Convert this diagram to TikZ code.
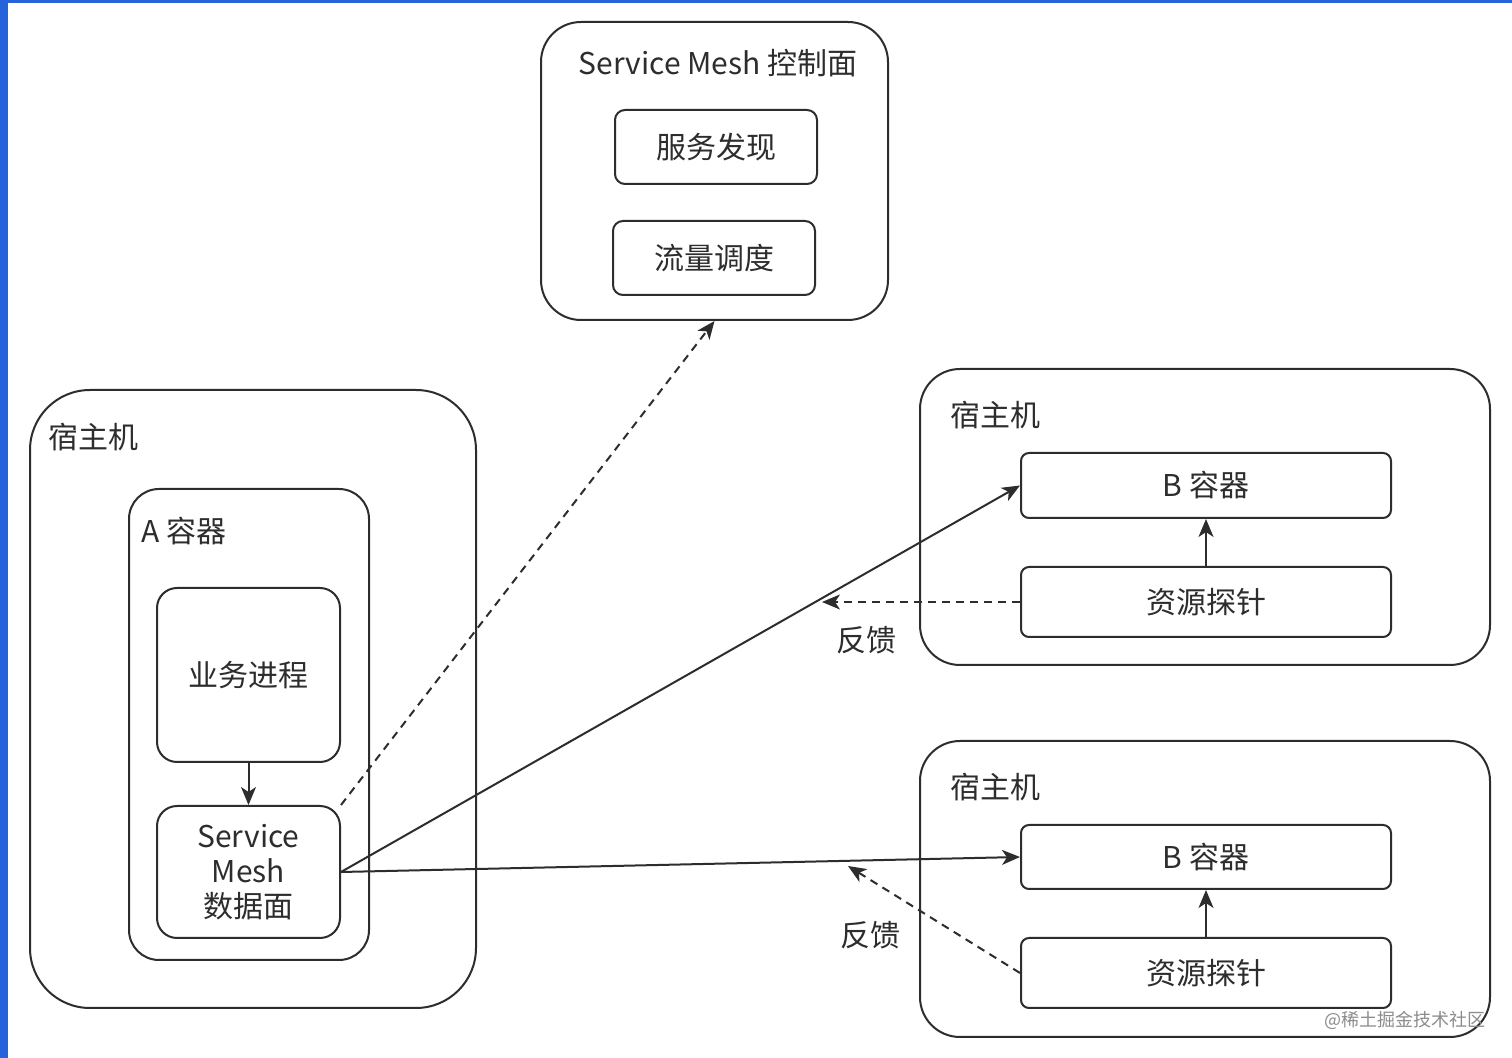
\documentclass[tikz,border=0pt]{standalone}
\usepackage{fontspec}
\setmainfont{Noto Sans CJK SC}
\usetikzlibrary{arrows.meta}
\definecolor{ink}{RGB}{45,45,45}
\definecolor{edgeblue}{RGB}{38,98,218}
\tikzset{
  box/.style={draw=ink, line width=1pt, rounded corners=#1, inner sep=0pt},
  box/.default=5pt,
  lbl/.style={text=ink, font=\fontsize{15}{18}\selectfont, inner sep=0pt},
  tip/.style={-{Stealth[length=9pt,width=7.5pt,inset=2.5pt]}, draw=ink, line width=1pt},
  fb/.style={tip, dash pattern=on 4pt off 3pt}
}
\begin{document}
\begin{tikzpicture}[x=0.5pt, y=-0.5pt]
\useasboundingbox (0,0) rectangle (1512,1058);
% the frame
\fill[white] (0,0) rectangle (1512,1058);
\fill[edgeblue] (0,0) rectangle (8,1058);
\fill[edgeblue] (0,0) rectangle (1512,3);

% the control plane
\node[box=20pt, minimum width=173.5pt, minimum height=149pt] (ctrl) at (714.5,171) {};
\node[lbl] (ctrltitle) at (718,63) {Service Mesh 控制面};
\node[box, minimum width=101pt, minimum height=37pt, lbl] (find) at (716,147) {服务发现};
\node[box, minimum width=101pt, minimum height=37pt, lbl] (route) at (714,258) {流量调度};

% the host of A
\node[box=30pt, minimum width=223pt, minimum height=309pt] (hostA) at (253,699) {};
\node[lbl, anchor=west] (hostAlbl) at (48,437) {宿主机};
\node[box=15pt, minimum width=120pt, minimum height=235.5pt] (contA) at (249,724.5) {};
\node[lbl, anchor=west] (contAlbl) at (141,531) {A 容器};
\node[box=10pt, minimum width=91.5pt, minimum height=87pt, lbl] (proc) at (248.5,675) {业务进程};
\node[box=10pt, minimum width=91.5pt, minimum height=66pt, lbl, align=center,
      font=\fontsize{15}{17.5}\selectfont] (dp) at (248.5,872) {Service\\Mesh\\数据面};

% the hosts of B
\foreach \n/\y in {1/517, 2/889}
    {\node[box=20pt, minimum width=285pt, minimum height=148pt] (hostB\n) at (1205,\y) {};};
\node[lbl, anchor=west] (hostB1lbl) at (950,415) {宿主机};
\node[lbl, anchor=west] (hostB2lbl) at (950,787) {宿主机};
\node[box=4pt, minimum width=185pt, minimum height=32.5pt, lbl] (contB1) at (1206,485.5) {B 容器};
\node[box=4pt, minimum width=185pt, minimum height=35pt, lbl] (probe1) at (1206,602) {资源探针};
\node[box=4pt, minimum width=185pt, minimum height=32pt, lbl] (contB2) at (1206,857) {B 容器};
\node[box=4pt, minimum width=185pt, minimum height=35pt, lbl] (probe2) at (1206,973) {资源探针};
\node[lbl] (fb1lbl) at (866,640) {反馈};
\node[lbl] (fb2lbl) at (870,935) {反馈};
\coordinate (fb1end) at (822,602);
\coordinate (fb2end) at (848,866);

% the mark
\node[text=black!45, font=\fontsize{9}{11}\selectfont, anchor=east, inner sep=0pt] (mark) at (1486,1020) {@稀土掘金技术社区};

% calls
\path (proc) edge[tip] (dp)
      (dp.east) edge[tip] (contB1.west)
      (dp.east) edge[tip] (contB2.west)
      (probe1) edge[tip] (contB1)
      (probe2) edge[tip] (contB2);

% control and feedback
\path (dp.north east) edge[fb] (ctrl.south)
      (probe1.west) edge[fb] (fb1end)
      (probe2.west) edge[fb] (fb2end);
\end{tikzpicture}
\end{document}
